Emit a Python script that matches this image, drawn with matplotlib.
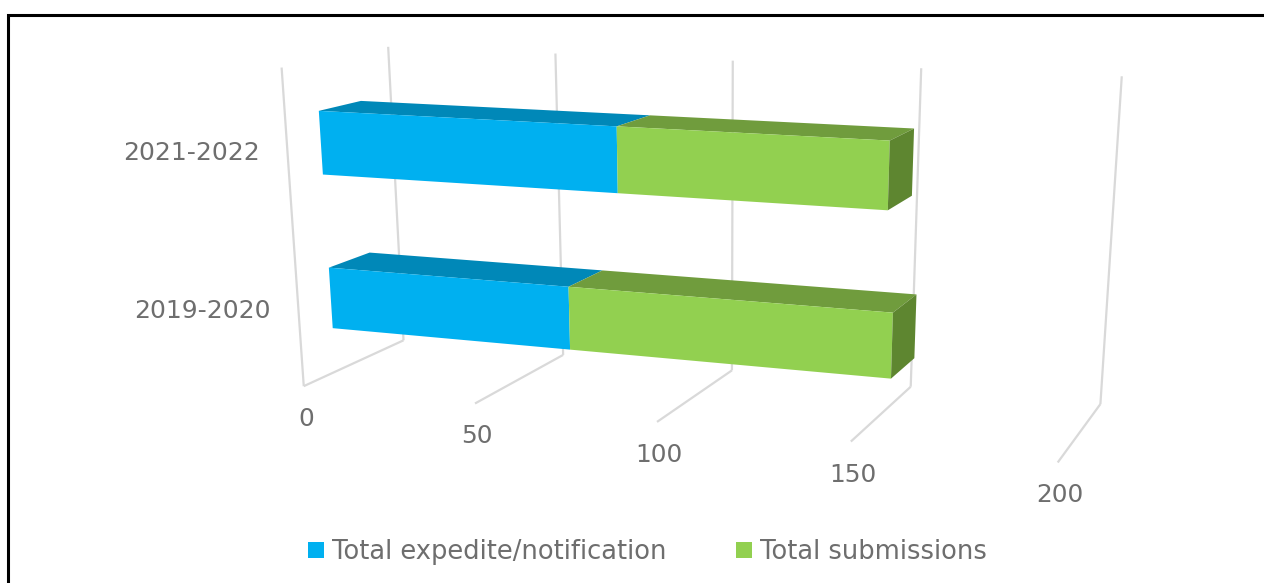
import numpy as np
import matplotlib
matplotlib.use("Agg")
import matplotlib.pyplot as plt
from matplotlib.patches import Patch

plt.rcParams['font.family'] = ['DejaVu Sans']

# --- data ---
categories = ["2019-2020", "2021-2022"]
expedite = [69.5, 83.5]
submissions = [85.5, 69.5]
series_names = ["Total expedite/notification", "Total submissions"]
ticks = [0, 50, 100, 150, 200]

# --- style / layout ---
BLUE = ("#00B0F0", "#0088B8")
GREEN = ("#92D050", "#709C3D")
SIDE = "#5E8630"
GRID = "#D9D9D9"
TEXT = "#6E6E6E"
BAR_BANDS = [(0.146, 0.346), (0.646, 0.846)]
DEPTH = (0.30, 0.70)

# calibration of the chart's 3D view: (value, height, depth) -> pixel
calib = [
    ((0, 0, 0), (303, 386)), ((0, 0, 1), (403, 340)), ((0, 1, 1), (388, 47)), ((0, 1, 0), (282, 68)),
    ((50, 0, 0), (475, 404)), ((50, 0, 1), (565, 355)), ((50, 1, 1), (555, 54)),
    ((100, 0, 0), (657, 423)), ((100, 0, 1), (732, 367)), ((100, 1, 1), (733, 60)),
    ((150, 0, 0), (851, 441)), ((150, 0, 1), (910, 390)), ((150, 1, 1), (921, 68)),
    ((200, 0, 0), (1058, 461)), ((200, 0, 1), (1100, 405)), ((200, 1, 1), (1122, 76)),
]
A, b = [], []
for (v, h, d), (px, py) in calib:
    x = v / 200
    A.append([x, h, d, 1, 0, 0, 0, 0, -px * x, -px * h, -px * d]); b.append(px)
    A.append([0, 0, 0, 0, x, h, d, 1, -py * x, -py * h, -py * d]); b.append(py)
sol = np.linalg.lstsq(np.array(A, float), np.array(b, float), rcond=None)[0]
P = np.append(sol, 1.0).reshape(3, 4)


def proj(v, h, d):
    q = P @ np.array([v / 200, h, d, 1.0])
    return q[0] / q[2], q[1] / q[2]


fig = plt.figure(figsize=(12.64, 5.83), dpi=100)
ax = fig.add_axes([0, 0, 1, 1])
ax.set_xlim(0, 1264)
ax.set_ylim(583, 0)
ax.axis("off")

# frame
ax.plot([8, 8, 1264], [583, 15, 15], color="black", lw=2.2, solid_joinstyle="miter", zorder=1)


def line(p, q):
    ax.plot(*zip(proj(*p), proj(*q)), color=GRID, lw=1.6, zorder=2, solid_capstyle="butt")


for t in ticks:
    line((t, 0, 0), (t, 0, 1))
    line((t, 0, 1), (t, 1, 1))
line((0, 0, 0), (0, 1, 0))


def face(pts, color, z):
    ax.fill(*zip(*[proj(*p) for p in pts]), color=color, lw=0, zorder=z)


d0, d1 = DEPTH
for i in (1, 0):
    lo, hi = BAR_BANDS[i]
    stacks = [(0, expedite[i], BLUE), (expedite[i], expedite[i] + submissions[i], GREEN)]
    z = 3 + (1 - i)
    for s, e, (front, top) in stacks:
        face([(s, hi, d0), (e, hi, d0), (e, hi, d1), (s, hi, d1)], top, z)
        face([(s, lo, d0), (e, lo, d0), (e, hi, d0), (s, hi, d0)], front, z)
    e = stacks[-1][1]
    face([(e, lo, d0), (e, lo, d1), (e, hi, d1), (e, hi, d0)], SIDE, z)

# tick labels
for t in ticks:
    x, y = proj(t, 0, 0)
    ax.text(x + 2, y + 33, str(t), ha="center", va="center", fontsize=17.8, color=TEXT)

cat_pos = [(271, 311), (260, 153)]
for c, (x, y) in zip(categories, cat_pos):
    ax.text(x, y, c, ha="right", va="center", fontsize=18, color=TEXT)

handles = [Patch(color=BLUE[0], lw=0), Patch(color=GREEN[0], lw=0)]
ax.legend(handles, series_names, ncol=2, frameon=False, loc="center",
          bbox_to_anchor=(647.5 / 1264, 1 - 552 / 583), fontsize=18.5, labelcolor=TEXT,
          handlelength=0.62, handleheight=0.62, handletextpad=0.3, columnspacing=2.7,
          borderpad=0, borderaxespad=0)

fig.savefig("out.png", dpi=100)
